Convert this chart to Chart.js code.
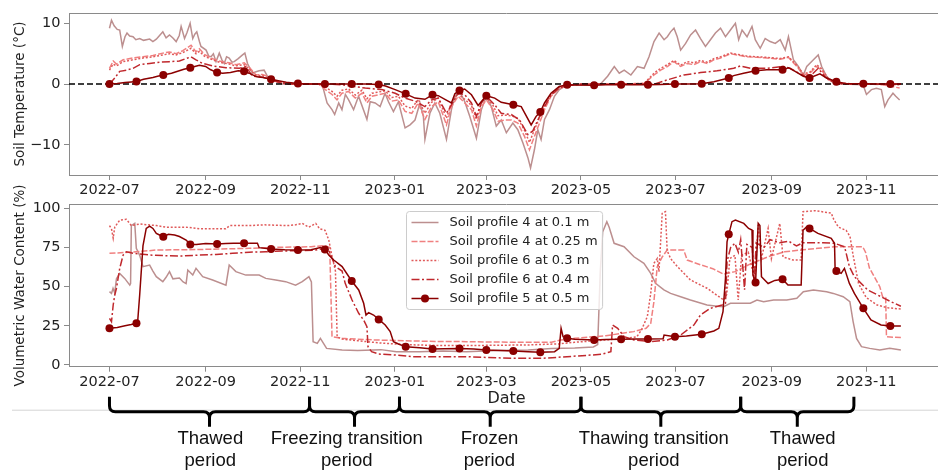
<!DOCTYPE html>
<html><head><meta charset="utf-8">
<script src="https://cdn.jsdelivr.net/npm/chart.js@4/dist/chart.umd.min.js"></script>
<style>
html,body{margin:0;padding:0;background:#fff;overflow:hidden;}
#wrap{position:relative;width:948px;height:472px;overflow:hidden;}
canvas{position:absolute;left:0;}
</style></head><body>
<div id="wrap">
<canvas id="cTop" width="948" height="196" style="top:0px"></canvas>
<canvas id="cBot" width="948" height="302" style="top:170px"></canvas>
</div>
<script>
// ---------------- DATA ----------------
// x values are days since 2022-07-01
const START_DATE = '2022-07-01';
const xTickLabels = ['2022-07','2022-09','2022-11','2023-01','2023-03','2023-05','2023-07','2023-09','2023-11'];
const tempTicks = [-10, 0, 10];
const vwcTicks = [0, 25, 50, 75, 100];
const seriesLabels = ['Soil profile 4 at 0.1 m','Soil profile 4 at 0.25 m','Soil profile 6 at 0.3 m','Soil profile 6 at 0.4 m','Soil profile 5 at 0.5 m'];

const markerDays = [0,17.4,34.7,52.1,69.4,86.8,104.2,121.5,138.9,156.2,173.6,191,208.3,225.7,243,260.4,277.8,295.1,312.5,329.9,347.2,364.6,381.9,399.3,416.6,434,451.4,468.7,486.1,503.5];

const temp010 = [[0,9.2],[1.3,10.5],[3,9.6],[5,9.0],[6.6,8.9],[8.3,6.2],[10,7.8],[11.3,8.4],[13,7.9],[15.2,7.8],[17,7.3],[19.5,7.5],[22,7.2],[25.9,7.4],[28,7.0],[30.2,7.4],[32.3,8.0],[34.4,8.6],[36.5,7.6],[38.7,8.1],[40.9,7.6],[43,7.0],[45,8.0],[46.2,9.5],[48.4,7.5],[50,8.5],[52,10.0],[53.7,7.5],[55,8.2],[56.3,8.6],[58,7.0],[59,6.2],[62.3,5.6],[64,4.6],[65.5,4.5],[67,5.0],[68.7,3.7],[70.8,5.1],[72.5,4.0],[74,3.4],[75.5,4.5],[77.2,4.3],[79,3.6],[80.4,3.7],[83,4.2],[85.8,4.8],[87.3,5.1],[89,3.4],[90.5,2.6],[92.2,1.8],[94,2.0],[96.5,2.2],[99.7,2.3],[101.8,1.3],[105,1.0],[108.3,0.3],[111.5,0],[137.1,0],[140.3,-3.1],[143.5,-4.2],[145.2,-5.0],[147.8,-3.1],[149.9,-4.2],[152.1,-1.7],[154.2,-2.6],[157.4,-4.2],[160.6,-2.0],[166,-5.8],[168.1,-2.9],[171.3,-3.1],[174.5,-3.7],[177.7,-1.5],[179.9,-2.9],[183.1,-4.5],[186.3,-2.9],[190.6,-7.2],[193.8,-6.7],[197,-5.9],[200.2,-3.1],[202.4,-5.3],[203.4,-9.1],[206.6,-4.8],[209.8,-3.1],[213,-4.8],[217.3,-9.1],[220.5,-4.2],[222.7,-2.0],[225.9,-1.2],[229.1,-2.9],[232.3,-5.3],[236.6,-8.9],[239.8,-4.2],[243,-2.0],[246.2,-3.7],[249.4,-6.9],[252.6,-5.9],[255.9,-8.0],[260.1,-6.4],[263.3,-7.5],[266.6,-9.7],[269.8,-12.1],[271.5,-13.8],[274,-10.8],[276.2,-7.5],[278.3,-9.1],[280.5,-5.8],[283.7,-4.2],[286.9,-2.0],[290.1,-0.9],[293.3,-0.4],[297.6,-0.1],[304,0],[316.9,0.1],[321.2,1.3],[325.5,2.9],[328.7,1.8],[331.9,2.3],[336.2,1.5],[340.4,2.9],[344.7,2.6],[347.9,4.5],[351.1,7.0],[354.4,8.4],[357.6,7.3],[359.7,7.8],[361.8,8.6],[364,9.2],[366.1,7.8],[368.3,5.6],[371.5,6.7],[374.7,8.1],[377.9,8.9],[381.1,7.5],[384.3,6.2],[387.5,7.3],[390.7,8.4],[394,9.2],[397.2,7.8],[400.4,8.9],[403.6,10.0],[405.7,7.3],[407.9,8.9],[411.1,7.8],[414.3,9.5],[416.4,7.3],[419.6,5.9],[422.8,7.5],[426,7.0],[429.3,6.7],[432.5,7.3],[435.7,5.6],[437.8,7.8],[441,4.0],[444.2,2.9],[447.4,1.5],[449.6,2.9],[453.9,4.0],[457,4.8],[459.2,2.9],[462.4,1.3],[466.7,0.2],[473.1,0],[485.9,-0.1],[488.1,-1.7],[491.3,-0.9],[494.5,-0.7],[497.7,-0.9],[499.9,-3.7],[502,-2.6],[505.2,-1.5],[507,-2.0],[509.5,-2.6]];

const temp025 = [[0,2.6],[2.4,3.8],[4.5,3.3],[8.8,4.0],[15.2,4.3],[21.6,4.5],[28,4.7],[34.4,5.1],[38.7,5.3],[43,5.0],[47.3,5.5],[52.6,6.4],[55.8,5.3],[58,5.8],[61.2,4.9],[66.5,4.2],[70.8,3.8],[77.2,3.5],[81.5,3.2],[86.9,3.5],[90,2.8],[94.4,1.5],[98.6,1.6],[102.9,1.2],[107.2,0.6],[111.5,0.2],[115.7,0],[135,0],[139.2,-0.9],[143.5,-1.7],[146.7,-2.6],[149.9,-1.5],[154.2,-1.2],[158.5,-2.3],[162.8,-1.5],[166,-3.1],[169.2,-2.0],[173.5,-1.75],[177.7,-1.5],[182,-2.8],[186.3,-2.6],[190.6,-4.5],[194.9,-4.8],[199.1,-3.1],[203.4,-5.8],[207.7,-3.7],[212,-2.9],[217.3,-6.7],[220.5,-3.7],[224.8,-2.0],[229.1,-3.1],[233.4,-4.2],[236.6,-6.9],[239.8,-3.7],[243,-2.6],[247.3,-4.2],[250.5,-6.1],[254.8,-5.9],[259.1,-5.9],[263.3,-6.4],[267.6,-8.6],[270.8,-10.8],[274,-8.6],[277.3,-6.4],[280.5,-4.2],[284.7,-2.0],[289,-0.9],[293.3,-0.4],[299.7,-0.1],[310,0],[344.7,0.1],[351.1,1.5],[355.4,2.3],[359.7,2.9],[364,3.7],[368.3,2.9],[372.5,3.4],[376.8,3.2],[381.1,3.7],[385.4,3.4],[389.7,4.0],[394,4.3],[400.4,5.0],[404.6,4.8],[411.1,4.5],[417.5,4.4],[423.9,4.3],[432.5,4.1],[437.8,4.4],[443.2,2.9],[447.4,1.5],[451.7,1.8],[456,2.9],[459.2,2.3],[463.5,0.7],[468.8,0.2],[477.4,0],[488.1,0],[498.8,-0.1],[509.5,-0.65]];

const temp030 = [[0,2.3],[2.4,3.3],[4.5,3.0],[8.8,3.7],[15.2,4.0],[21.6,4.3],[28,4.5],[34.4,4.8],[38.7,5.0],[43,4.8],[47.3,5.2],[52.6,5.9],[55.8,5.0],[58,5.4],[61.2,4.6],[66.5,4.0],[70.8,3.6],[77.2,3.3],[81.5,3.0],[86.9,3.2],[90,2.5],[94.4,1.5],[98.6,1.4],[102.9,1.0],[107.2,0.5],[111.5,0.15],[115.7,0],[135,0],[139.2,-0.5],[143.5,-1.2],[146.7,-2.0],[149.9,-1.0],[154.2,-0.8],[158.5,-1.8],[162.8,-1.0],[166,-2.4],[169.2,-1.5],[173.5,-1.3],[177.7,-1.1],[182,-2.2],[186.3,-2.0],[190.6,-3.6],[194.9,-4.0],[199.1,-2.5],[203.4,-4.8],[207.7,-3.0],[212,-2.3],[217.3,-5.6],[220.5,-3.0],[224.8,-1.6],[229.1,-2.5],[233.4,-3.5],[236.6,-5.8],[239.8,-3.0],[243,-2.1],[247.3,-3.5],[250.5,-5.2],[254.8,-5.1],[259.1,-5.2],[263.3,-5.6],[267.6,-7.6],[270.8,-9.6],[274,-7.5],[277.3,-5.5],[280.5,-3.6],[284.7,-1.7],[289,-0.7],[293.3,-0.3],[299.7,-0.1],[310,0],[344.7,0.1],[351.1,1.8],[355.4,2.6],[359.7,3.2],[364,3.9],[368.3,3.1],[372.5,3.7],[376.8,3.5],[381.1,3.9],[385.4,3.6],[389.7,4.2],[394,4.5],[400.4,5.1],[404.6,4.9],[411.1,4.6],[417.5,4.5],[423.9,4.4],[432.5,4.2],[437.8,4.5],[443.2,3.1],[447.4,1.7],[451.7,2.0],[456,3.2],[459.2,2.5],[463.5,0.9],[468.8,0.3],[477.4,0.05],[490,0],[510.3,-0.1]];

const temp040 = [[0,0],[3.4,1.0],[6.6,2.1],[10.9,2.3],[15.2,2.6],[19.5,3.2],[25.9,3.4],[32.3,3.6],[38.7,3.7],[45.1,3.8],[52.6,4.5],[55.8,4.0],[60.1,3.4],[66.5,3.0],[75.1,2.7],[83.7,2.6],[87.9,2.9],[92.2,1.3],[98.6,1.15],[102.9,0.8],[109.3,0.3],[115.7,0],[140,0],[149.9,-0.1],[164.9,-0.65],[175.6,-0.9],[184.2,-1.5],[190.6,-2.3],[197,-2.8],[203.4,-3.7],[207.7,-2.6],[212,-2.3],[217.3,-4.8],[220.5,-3.4],[224.8,-1.5],[229.1,-1.75],[233.4,-3.1],[236.6,-5.3],[239.8,-3.1],[243,-2.0],[248.4,-3.4],[252.6,-4.8],[259.1,-5.0],[264.4,-5.9],[269.8,-8.3],[273,-7.7],[276.2,-5.9],[280.5,-3.7],[284.7,-1.8],[290.1,-0.65],[295.4,-0.2],[305,0],[351.1,0],[359.7,0.7],[370.4,1.5],[381.1,1.9],[391.8,2.2],[402.5,2.6],[406.8,3.0],[413.2,2.6],[423.9,2.6],[434.6,2.9],[438.9,2.6],[445.3,1.7],[450.6,1.0],[457,2.6],[461.4,1.2],[466.7,0.3],[473.1,0],[510.3,0]];

const temp050Line = [[5,0.1],[10,0.25],[14,0.35],[22,0.8],[28,1.1],[31,1.3],[40,1.8],[45,2.2],[48,2.45],[55,2.9],[58,3.1],[62,2.9],[65,2.4],[73,1.8],[78,1.9],[83,2.2],[90,1.8],[95,1.2],[99,1.1],[108,0.6],[114,0.3],[128,0],[165,0],[178,-0.3],[184.2,-0.9],[197,-2.3],[203.4,-2.5],[212,-1.9],[216.3,-2.5],[220.5,-3.1],[222.7,-1.6],[229,-0.8],[233.4,-1.75],[237.7,-3.5],[248.4,-2.3],[252.6,-3.0],[265.5,-3.7],[271.9,-6.7],[275.1,-5.3],[280.5,-3.1],[284.7,-1.5],[290,-0.4],[300,-0.15],[320,-0.1],[340,-0.1],[355,-0.05],[372,0],[389.7,0.4],[396.1,0.8],[402.5,1.4],[408.9,1.8],[423.9,2.35],[437.8,2.7],[442.1,2.1],[447.4,1.3],[458.1,1.7],[462.4,1.0],[475.3,0.05],[495,0],[510.3,0]];
const temp050Markers = [0,0.44,1.5,2.7,1.9,2.1,0.8,0.1,0,0,-0.05,-1.6,-1.75,-1.05,-1.9,-3.4,-4.6,-0.1,-0.2,-0.1,-0.1,0,0.05,1.0,2.2,2.35,1.0,0.4,0.05,0];

const vwc010 = [[0,46.8],[1.3,45.7],[2.3,48.9],[3.4,46],[4.5,55],[6.6,58.5],[9.8,55.3],[13.1,51],[13.6,52],[14.1,89],[16.3,90.4],[17.3,74.5],[19.5,70],[21.6,62.8],[25.9,63.8],[28,60],[30.2,56.4],[34.4,53.2],[36.5,56],[38.7,59.6],[40.9,55],[45.1,55.5],[47.5,53],[49.4,52],[50.5,60.6],[53.7,57.4],[55.8,61.7],[60.1,56.4],[66.5,54.3],[75.1,51],[77.2,63.8],[81.5,59.6],[87.9,57.4],[96.5,57.4],[100.8,55.3],[107.2,54.3],[113.6,53.2],[120,51],[124.3,53.2],[128.6,56.4],[130.2,53],[131.3,14.9],[134,13.8],[136,17],[138,13.8],[140,10.6],[150,9.6],[160,9.2],[175,9.8],[185,8.5],[200,8.5],[215,8.9],[230,8.5],[250,9.2],[270,9.6],[285,10.6],[300,10.8],[312,11.5],[314.8,13],[316.5,60],[318,85],[320.7,91.5],[322.2,88],[325.4,77.7],[331.8,75.5],[338.2,69.1],[344.6,64.9],[349,58.5],[352.1,52.1],[357.5,47.9],[361.8,45.7],[368.3,43.6],[374.6,41.5],[385.3,38.3],[391.8,37.5],[396,37.2],[400.4,39.4],[404.6,39.4],[413.2,39.4],[417.5,41.5],[421.8,40.4],[428.2,41.5],[436.7,41.5],[443.2,42.6],[447.4,46.8],[453.9,47.9],[462.4,46.8],[466.7,45.7],[473.1,43.6],[477.4,40.4],[479.5,27.7],[481.7,17],[484.9,11.7],[490.2,10.6],[496.7,9.6],[503.1,10.6],[510.3,9.6]];

const vwc025 = [[0,71.3],[10,71.8],[20,72.5],[30,73.4],[50,73.6],[70,74],[90,74.5],[110,75.2],[130,75.5],[139,76.3],[142,75],[143.5,18],[150,17],[170,16],[190,15.5],[210,15],[230,14.9],[260,14.5],[285,14.5],[291,16],[300,17],[320,18.7],[338,21.3],[346,23.4],[349,26.6],[351,40],[353.2,62.8],[356.5,69.1],[359.6,73.4],[370.3,73.4],[372.5,67],[381,64],[389,61.5],[396,58],[403.3,59.6],[414,64.9],[424.7,69.1],[435.4,72.3],[446,73.4],[456.8,74.5],[467.5,75.5],[485.7,75.5],[487.5,72],[490,62],[496.7,50],[498.5,43.6],[500.5,43],[501,18],[510.3,17.5]];

const vwc030 = [[0,89],[1.3,87],[2.4,81],[3.4,88],[6.6,92.5],[10.9,93],[14.1,89],[19.5,90],[30.2,89],[36.5,88],[49.4,88],[58,87],[75,87],[77.5,89],[90,89],[100,89.5],[115,89],[120,89.5],[124.3,90.4],[128.6,88],[133,90.4],[135.5,87],[139,86],[141.4,79.8],[143.1,71.3],[145.7,60],[146.8,18],[150,16.5],[160,15.5],[175,14],[190,13],[210,12.5],[240,12.5],[270,12.8],[290,13.5],[300,14.5],[320,16],[332,17],[340,18],[343,22.3],[346.8,30.9],[349,45.7],[351,64.9],[353.2,68],[354.3,59.6],[356.4,96.8],[358.5,97.9],[359.6,73],[361.8,68],[366,63],[374.6,54.3],[385.3,49],[393,43.6],[396,41.5],[398,45],[400,68],[403.3,70],[405.4,41.5],[407.6,70],[411.9,72],[416.1,54],[418.3,89.4],[420.4,68],[424.7,87.2],[426.8,68],[432.2,90.4],[434.3,69],[437.5,68],[440.8,67],[446,67],[447.2,97.9],[455,98.5],[465.4,97],[467,93],[470,88],[475,86],[477.5,82],[479.5,70],[483,52],[488,43],[495,38.3],[502,36.5],[510.3,35.7]];

const vwc040 = [[0,29.8],[1.3,27.7],[2.4,38.3],[3.4,44.7],[4.5,49],[6.6,61.7],[8.8,70.2],[10.9,72.3],[15.2,71.3],[25.9,70.2],[36.5,69.8],[47.3,69.6],[58,70.2],[68.7,70.6],[79.4,71.3],[90.1,72],[100.8,72.3],[111.5,72.8],[122.2,73],[132.9,73.4],[139.3,74.5],[141.3,73.4],[145.7,62.8],[150,60],[152,52.1],[156.4,41.5],[160.7,33],[163.9,28.7],[166,24.5],[166.7,11.7],[169,8.5],[173.5,7],[184,6.4],[195,5.3],[215,5.3],[230,5.3],[243,4.8],[260,4.3],[280,4.3],[295,5.3],[310,6.3],[317,6.8],[323.3,8.5],[324.4,25.5],[327.7,23.4],[331.9,18.1],[338.2,16],[349,14.9],[359.7,16],[368.3,19.1],[376.8,25.5],[381.1,31.9],[387.5,36.2],[395,38.3],[397.2,39.4],[398.2,66],[400.5,75],[403.3,77.7],[405.5,72],[407,80],[409.5,48],[411,77],[414.5,75],[415.7,53],[417,78],[422,75],[426,80],[432,78],[438,79],[443,76],[447,78],[460,78],[467.5,77.7],[474,75.5],[477.1,62.8],[480.3,56.4],[488.9,47.9],[497.5,43.6],[503.9,40.4],[510.3,37.5]];

const vwc050Line = [[5,24],[10,25],[14,25.8],[18.2,28],[19.5,45],[21.6,76],[23.7,87.2],[25.9,88.7],[28,87.2],[30.2,84],[32.3,83],[38,83.4],[42,83],[45.1,82],[49.4,79.8],[56,77],[62,77.5],[75,77.5],[80,77.7],[95.4,77.7],[96.5,74.9],[113,73.6],[130,73.6],[136,75],[141.4,70.2],[144.6,67],[150,62.8],[160.7,47.9],[163.9,39.4],[165.4,31.9],[167.1,33.4],[170.3,31.9],[177.8,25.5],[181,21.3],[183.1,14.9],[186.3,13.4],[200,11],[216,10.4],[235,10.2],[252,9.2],[270,8.5],[287,8.5],[290,10.6],[291.2,23.4],[292.5,18.1],[300,16.5],[320,16.2],[340,16.6],[357,16.8],[357.6,19.1],[372,18.5],[389.7,21.7],[392.9,23.4],[395.6,34],[397.2,55.3],[398.2,78.7],[401.4,91.5],[403.6,92.5],[409,90.4],[412.1,87.2],[414.3,86.2],[414.9,57.4],[418.3,90.4],[419.4,89],[420.4,56.4],[424.7,52],[429,54],[437.5,51],[446,51],[447.2,86],[449.6,88.3],[456.8,84],[465.4,80.9],[467.5,77.7],[467.9,60.6],[471.8,58.5],[473.9,61.7],[477.1,52.1],[480.3,45.7],[491,28.7],[497.5,25.5],[510.3,24.9]];
const vwc050Markers = [23.4,26.6,81.9,77,77.2,77.7,74,73.4,73.8,53.6,29.1,11.7,10.2,10.6,9.6,8.9,8.1,17,16,16.4,16.6,18.1,19.6,83.4,52.6,54.7,87.2,60,36.2,24.9];

const periodStarts = ['2022-07-01','2022-11-07','2023-01-04','2023-05-01','2023-08-12'];
const periodEnds   = ['2022-11-07','2023-01-04','2023-05-01','2023-08-12','2023-10-24'];
const periodLabelAt = ['2022-09-04','2022-12-01','2023-03-03','2023-06-17','2023-09-21'];
const periodLabels = [['Thawed','period'],['Freezing transition','period'],['Frozen','period'],['Thawing transition','period'],['Thawed','period']];

// ---------------- HELPERS ----------------
const DAY0 = (() => { const [y,m,d] = START_DATE.split('-').map(Number); return Date.UTC(y, m-1, d); })();
function dayOf(s){ const p = s.split('-').map(Number); return (Date.UTC(p[0], p[1]-1, p[2]||1) - DAY0) / 86400000; }
const toPts = a => a.map(([x,y]) => ({x, y}));
function withMarkers(line, vals){
  const pts = line.map(([x,y]) => ({x, y, m:false}));
  markerDays.forEach((d,i) => pts.push({x:d, y:vals[i], m:true}));
  pts.sort((a,b) => a.x - b.x);
  return pts;
}

const X_MIN = -26.1, X_MAX = 538.1;
const styles = [
  {color:'#bc8f8f', dash:[]},
  {color:'#f08080', dash:[6,2]},
  {color:'#e05a5a', dash:[2,1.8]},
  {color:'#c0282d', dash:[8,2.5,2,2.5]},
  {color:'#8b0000', dash:[]}
];
const FONT = "'DejaVu Sans', sans-serif";
Chart.defaults.font.family = FONT;
Chart.defaults.color = '#222';
const AX = '#8a8a8a';

function makeDatasets(series, mLine, mVals, withZero){
  const ds = series.map((s,i) => ({
    label: seriesLabels[i], data: toPts(s), borderColor: styles[i].color, borderDash: styles[i].dash,
    borderWidth: 1.5, pointRadius: 0, fill:false, tension:0, order: 10 - i
  }));
  if (withZero) ds.push({label:'zero', data:[{x:X_MIN,y:0},{x:X_MAX,y:0}], borderColor:'#000', borderDash:[6,3], borderWidth:1.5, pointRadius:0, order:1});
  ds.push({label: seriesLabels[4], data: withMarkers(mLine, mVals), borderColor: styles[4].color, borderWidth:1.5,
    pointRadius: c => (c.raw && c.raw.m) ? 4 : 0, pointBackgroundColor: styles[4].color, pointBorderWidth:0, pointHoverRadius:0,
    fill:false, tension:0, order:0});
  return ds;
}

function xScale(height, title){
  return {
    type:'linear', min:X_MIN, max:X_MAX,
    afterBuildTicks: s => { s.ticks = xTickLabels.map(l => ({value: dayOf(l)})); },
    afterFit: s => { s.height = height; s.paddingLeft = 0; s.paddingRight = 0; },
    ticks:{autoSkip:false, maxRotation:0, minRotation:0, padding:2, color:'#222', font:{size:14.5}, callback:(v,i) => xTickLabels[i]},
    grid:{drawOnChartArea:false, drawTicks:true, tickLength:5, color:AX, lineWidth:1},
    border:{display:true, color:AX, width:1},
    title: title || {display:false}
  };
}
function yScale(min, max, ticks, title){
  return {
    type:'linear', min, max,
    afterBuildTicks: s => { s.ticks = ticks.map(v => ({value:v})); },
    afterFit: s => { s.width = 69; s.paddingTop = 0; s.paddingBottom = 0; },
    ticks:{padding:3.5, color:'#222', font:{size:14.5}, callback: v => String(v).replace('-', '\u2212')},
    grid:{drawOnChartArea:false, drawTicks:true, tickLength:5, color:AX, lineWidth:1},
    border:{display:true, color:AX, width:1},
    title:{display:true, text:title, color:'#222', font:{size:13.5}, padding:{top:12, bottom:0}}
  };
}

const topSpine = {
  id:'topSpine',
  afterDraw(chart){
    const a = chart.chartArea, ctx = chart.ctx;
    ctx.save(); ctx.strokeStyle = AX; ctx.lineWidth = 1;
    ctx.beginPath(); ctx.moveTo(a.left, Math.round(a.top)+0.5); ctx.lineTo(a.right, Math.round(a.top)+0.5); ctx.stroke();
    ctx.restore();
  }
};

const boxLegend = {
  id:'boxLegend',
  afterDraw(chart){
    const ctx = chart.ctx, a = chart.chartArea;
    ctx.save();
    ctx.font = "13px " + FONT;
    const textW = Math.max(...seriesLabels.map(t => ctx.measureText(t).width));
    const padL = 5, handle = 27, gap = 11, padR = 5, rowH = 19, padV = 11;
    const w = padL + handle + gap + textW + padR;
    const h = (seriesLabels.length - 1) * rowH + 2 * padV;
    const x0 = Math.round((a.left + a.right) / 2 - w / 2 - 2) + 0.5;
    const y0 = Math.round(a.top + 6.7) + 0.5;
    ctx.beginPath();
    if (ctx.roundRect) ctx.roundRect(x0, y0, w, h, 3); else ctx.rect(x0, y0, w, h);
    ctx.fillStyle = 'rgba(255,255,255,0.8)'; ctx.fill();
    ctx.strokeStyle = '#cccccc'; ctx.lineWidth = 1; ctx.stroke();
    seriesLabels.forEach((t, i) => {
      const y = y0 + padV + i * rowH;
      ctx.strokeStyle = styles[i].color; ctx.lineWidth = 1.5; ctx.setLineDash(styles[i].dash);
      ctx.beginPath(); ctx.moveTo(x0 + padL, y); ctx.lineTo(x0 + padL + handle, y); ctx.stroke();
      ctx.setLineDash([]);
      if (i === 4) { ctx.fillStyle = styles[4].color; ctx.beginPath(); ctx.arc(x0 + padL + handle / 2, y, 4, 0, Math.PI * 2); ctx.fill(); }
      ctx.fillStyle = '#222'; ctx.textBaseline = 'middle'; ctx.textAlign = 'left';
      ctx.fillText(t, x0 + padL + handle + gap, y);
    });
    ctx.restore();
  }
};

const braces = {
  id:'braces',
  afterDraw(chart){
    const ctx = chart.ctx, xs = chart.scales.x;
    const a = chart.chartArea;
    const yBase = a.bottom + 45, up = 15, down = 15, r = 6;
    ctx.save();
    ctx.strokeStyle = '#d4d4d4'; ctx.lineWidth = 1;
    ctx.beginPath(); ctx.moveTo(12, yBase - 1.5); ctx.lineTo(chart.width, yBase - 1.5); ctx.stroke();
    ctx.strokeStyle = '#000'; ctx.lineWidth = 3; ctx.lineCap = 'butt'; ctx.lineJoin = 'round';
    periodStarts.forEach((s, i) => {
      const xa = xs.getPixelForValue(dayOf(s)), xb = xs.getPixelForValue(dayOf(periodEnds[i]));
      const xm = (xa + xb) / 2;
      ctx.beginPath();
      ctx.moveTo(xa, yBase - up); ctx.lineTo(xa, yBase - r); ctx.quadraticCurveTo(xa, yBase, xa + r, yBase);
      ctx.lineTo(xm - r, yBase); ctx.quadraticCurveTo(xm, yBase, xm, yBase + r); ctx.lineTo(xm, yBase + down);
      ctx.moveTo(xm, yBase + r); ctx.quadraticCurveTo(xm, yBase, xm + r, yBase);
      ctx.lineTo(xb - r, yBase); ctx.quadraticCurveTo(xb, yBase, xb, yBase - r); ctx.lineTo(xb, yBase - up);
      ctx.stroke();
    });
    ctx.fillStyle = '#111'; ctx.font = "18.5px 'Liberation Sans', Arial, sans-serif";
    ctx.textAlign = 'center'; ctx.textBaseline = 'alphabetic';
    periodLabels.forEach((lines, i) => {
      const x = xs.getPixelForValue(dayOf(periodLabelAt[i]));
      lines.forEach((t, j) => ctx.fillText(t, x, yBase + 32.5 + j * 22));
    });
    ctx.restore();
  }
};

const common = {responsive:false, animation:false, devicePixelRatio:1, events:[],
  plugins:{legend:{display:false}, tooltip:{enabled:false}}};

new Chart(document.getElementById('cTop'), {
  type:'line',
  data:{datasets: makeDatasets([temp010, temp025, temp030, temp040], temp050Line, temp050Markers, true)},
  options: Object.assign({}, common, {
    layout:{padding:{top:13, left:0, right:0, bottom:0}},
    scales:{ x: xScale(21), y: yScale(-14.95, 11.7, tempTicks, 'Soil Temperature (°C)') }
  }),
  plugins:[topSpine]
});

new Chart(document.getElementById('cBot'), {
  type:'line',
  data:{datasets: makeDatasets([vwc010, vwc025, vwc030, vwc040], vwc050Line, vwc050Markers, false)},
  options: Object.assign({}, common, {
    layout:{padding:{top:34.3, left:0, right:0, bottom:0}},
    scales:{
      x: xScale(105.3, {display:true, text:'Date', color:'#222', font:{size:16}, padding:{top:0, bottom:64}}),
      y: yScale(-1.1, 102.6, vwcTicks, 'Volumetric Water Content (%)')
    }
  }),
  plugins:[topSpine, boxLegend, braces]
});
</script>
</body></html>
